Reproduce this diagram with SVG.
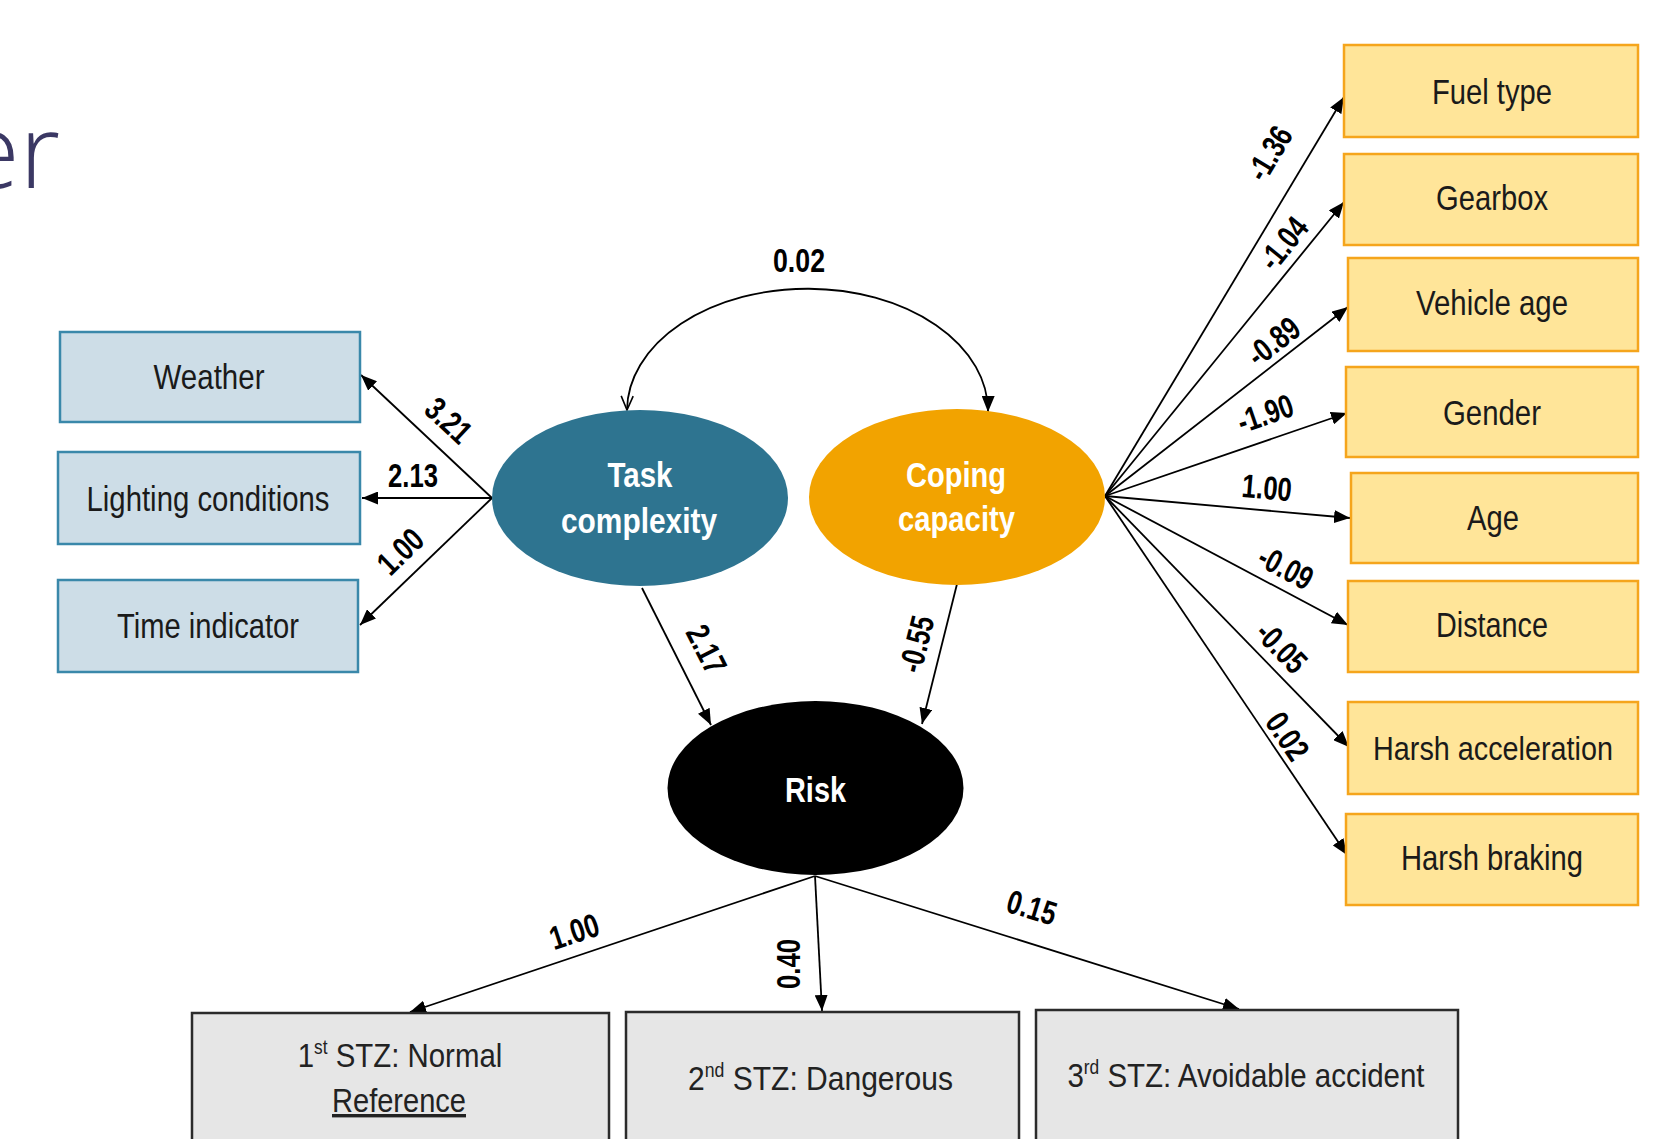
<svg xmlns="http://www.w3.org/2000/svg" width="1655" height="1139" viewBox="0 0 1655 1139">
<defs>
<style>
text{font-family:"Liberation Sans",Arial,sans-serif;}
.lb{fill:#cddde7;stroke:#3a88aa;stroke-width:2.5;}
.rb{fill:#ffe599;stroke:#f5a51c;stroke-width:2.5;}
.bb{fill:#e6e6e6;stroke:#2b2b2b;stroke-width:2.5;}
.bt{font-size:35px;fill:#1a1a1a;text-anchor:middle;}
.st{font-size:34px;fill:#222;text-anchor:middle;}
.sup{font-size:20px;}
.et{font-size:35px;font-weight:bold;fill:#fff;text-anchor:middle;}
.lab{font-size:33px;font-weight:bold;fill:#000;text-anchor:middle;}
.cn{stroke:#000;stroke-width:1.8;fill:none;marker-end:url(#ah);}
</style>
<marker id="ah" viewBox="0 0 16 13" markerWidth="16" markerHeight="13" refX="16" refY="6.5" orient="auto" markerUnits="userSpaceOnUse">
<path d="M0,0 L16,6.5 L0,13 z" fill="#000"/>
</marker>
<marker id="oa" viewBox="0 0 16 14" markerWidth="16" markerHeight="14" refX="15" refY="7" orient="auto-start-reverse" markerUnits="userSpaceOnUse">
<path d="M1,1 L15,7 L1,13" fill="none" stroke="#000" stroke-width="1.6"/>
</marker>
</defs>
<rect width="1655" height="1139" fill="#fff"/>
<text x="60" y="188" text-anchor="end" style="font-family:'Open Sans','Noto Sans',sans-serif;font-size:104px;font-weight:300;fill:#3b3864;">er</text>

<g id="connectors">
<path class="cn" d="M627,410 A180,122 0 0 1 988,412" marker-start="url(#oa)" marker-end="url(#oa)"/>
<line class="cn" x1="492" y1="498" x2="361" y2="375"/>
<line class="cn" x1="492" y1="498" x2="362" y2="498"/>
<line class="cn" x1="492" y1="498" x2="360" y2="625"/>
<line class="cn" x1="642" y1="588" x2="711" y2="725"/>
<line class="cn" x1="957" y1="584" x2="922" y2="724"/>
<line class="cn" x1="815" y1="876" x2="410" y2="1012"/>
<line class="cn" x1="815" y1="876" x2="822" y2="1011"/>
<line class="cn" x1="815" y1="876" x2="1239" y2="1009"/>
<line class="cn" x1="1105" y1="496" x2="1344" y2="97"/>
<line class="cn" x1="1105" y1="496" x2="1344" y2="202"/>
<line class="cn" x1="1105" y1="496" x2="1348" y2="307"/>
<line class="cn" x1="1105" y1="496" x2="1347" y2="413"/>
<line class="cn" x1="1105" y1="496" x2="1350" y2="518"/>
<line class="cn" x1="1105" y1="496" x2="1348" y2="625"/>
<line class="cn" x1="1105" y1="496" x2="1349" y2="747"/>
<line class="cn" x1="1105" y1="496" x2="1347" y2="855"/>
<text class="lab" x="799" y="272" textLength="52" lengthAdjust="spacingAndGlyphs">0.02</text>
<text class="lab" transform="translate(449,420) rotate(43)" x="0" y="12" textLength="50" lengthAdjust="spacingAndGlyphs">3.21</text>
<text class="lab" x="413" y="487" textLength="50" lengthAdjust="spacingAndGlyphs">2.13</text>
<text class="lab" transform="translate(400,551) rotate(-44)" x="0" y="12" textLength="50" lengthAdjust="spacingAndGlyphs">1.00</text>
<text class="lab" transform="translate(707,649) rotate(63)" x="0" y="12" textLength="50" lengthAdjust="spacingAndGlyphs">2.17</text>
<text class="lab" transform="translate(916,644) rotate(-76)" x="0" y="12" textLength="57" lengthAdjust="spacingAndGlyphs">-0.55</text>
<text class="lab" transform="translate(574,931) rotate(-18)" x="0" y="12" textLength="50" lengthAdjust="spacingAndGlyphs">1.00</text>
<text class="lab" transform="translate(788,964) rotate(-90)" x="0" y="12" textLength="50" lengthAdjust="spacingAndGlyphs">0.40</text>
<text class="lab" transform="translate(1032,907) rotate(17)" x="0" y="12" textLength="50" lengthAdjust="spacingAndGlyphs">0.15</text>
<text class="lab" transform="translate(1269,153) rotate(-59)" x="0" y="12" textLength="57" lengthAdjust="spacingAndGlyphs">-1.36</text>
<text class="lab" transform="translate(1283,243) rotate(-51)" x="0" y="12" textLength="57" lengthAdjust="spacingAndGlyphs">-1.04</text>
<text class="lab" transform="translate(1273,341) rotate(-38)" x="0" y="12" textLength="57" lengthAdjust="spacingAndGlyphs">-0.89</text>
<text class="lab" transform="translate(1265,413) rotate(-19)" x="0" y="12" textLength="57" lengthAdjust="spacingAndGlyphs">-1.90</text>
<text class="lab" transform="translate(1267,487) rotate(5)" x="0" y="12" textLength="50" lengthAdjust="spacingAndGlyphs">1.00</text>
<text class="lab" transform="translate(1286,567) rotate(28)" x="0" y="12" textLength="57" lengthAdjust="spacingAndGlyphs">-0.09</text>
<text class="lab" transform="translate(1282,647) rotate(46)" x="0" y="12" textLength="57" lengthAdjust="spacingAndGlyphs">-0.05</text>
<text class="lab" transform="translate(1288,736) rotate(56)" x="0" y="12" textLength="50" lengthAdjust="spacingAndGlyphs">0.02</text>
</g>

<g id="weather"><rect class="lb" x="60" y="332" width="300" height="90"/><text class="bt" x="209" y="389" textLength="111" lengthAdjust="spacingAndGlyphs">Weather</text></g>
<g id="lighting"><rect class="lb" x="58" y="452" width="302" height="92"/><text class="bt" x="208" y="511" textLength="243" lengthAdjust="spacingAndGlyphs">Lighting conditions</text></g>
<g id="time"><rect class="lb" x="58" y="580" width="300" height="92"/><text class="bt" x="208" y="638" textLength="182" lengthAdjust="spacingAndGlyphs">Time indicator</text></g>

<g id="task"><ellipse cx="640" cy="498" rx="148" ry="88" fill="#2e7490"/><text class="et" x="640" y="487" textLength="65" lengthAdjust="spacingAndGlyphs">Task</text><text class="et" x="639" y="533" textLength="156" lengthAdjust="spacingAndGlyphs">complexity</text></g>
<g id="coping"><ellipse cx="957" cy="497" rx="148" ry="88" fill="#f2a300"/><text class="et" x="956" y="487" textLength="100" lengthAdjust="spacingAndGlyphs">Coping</text><text class="et" x="956.5" y="531" textLength="117" lengthAdjust="spacingAndGlyphs">capacity</text></g>
<g id="risk"><ellipse cx="815.5" cy="788" rx="148" ry="87" fill="#000"/><text class="et" x="815.5" y="802" textLength="61" lengthAdjust="spacingAndGlyphs">Risk</text></g>

<g id="fuel"><rect class="rb" x="1344" y="45" width="294" height="92"/><text class="bt" x="1492" y="104" textLength="120" lengthAdjust="spacingAndGlyphs">Fuel type</text></g>
<g id="gearbox"><rect class="rb" x="1344" y="154" width="294" height="91"/><text class="bt" x="1492" y="210" textLength="112" lengthAdjust="spacingAndGlyphs">Gearbox</text></g>
<g id="vehicleage"><rect class="rb" x="1348" y="258" width="290" height="93"/><text class="bt" x="1492" y="315" textLength="152" lengthAdjust="spacingAndGlyphs">Vehicle age</text></g>
<g id="gender"><rect class="rb" x="1346" y="367" width="292" height="90"/><text class="bt" x="1492" y="425" textLength="98" lengthAdjust="spacingAndGlyphs">Gender</text></g>
<g id="age"><rect class="rb" x="1351" y="473" width="287" height="90"/><text class="bt" x="1493" y="530" textLength="52" lengthAdjust="spacingAndGlyphs">Age</text></g>
<g id="distance"><rect class="rb" x="1348" y="581" width="290" height="91"/><text class="bt" x="1492" y="637" textLength="112" lengthAdjust="spacingAndGlyphs">Distance</text></g>
<g id="harshacc"><rect class="rb" x="1348" y="702" width="290" height="92"/><text class="bt" x="1493" y="760" style="font-size:33px" textLength="240" lengthAdjust="spacingAndGlyphs">Harsh acceleration</text></g>
<g id="harshbrake"><rect class="rb" x="1346" y="814" width="292" height="91"/><text class="bt" x="1492" y="870" textLength="182" lengthAdjust="spacingAndGlyphs">Harsh braking</text></g>

<g id="stz1"><rect class="bb" x="192" y="1013" width="417" height="140"/>
<text class="st" transform="translate(400,1067) scale(0.865,1)" x="0" y="0">1<tspan class="sup" dy="-13">st</tspan><tspan dy="13"> STZ: Normal</tspan></text>
<text class="st" x="399" y="1112" textLength="134" lengthAdjust="spacingAndGlyphs" text-decoration="underline">Reference</text></g>
<g id="stz2"><rect class="bb" x="626" y="1012" width="393" height="140"/>
<text class="st" transform="translate(820.5,1090) scale(0.883,1)" x="0" y="0">2<tspan class="sup" dy="-13">nd</tspan><tspan dy="13"> STZ: Dangerous</tspan></text></g>
<g id="stz3"><rect class="bb" x="1036" y="1010" width="422" height="140"/>
<text class="st" transform="translate(1246,1087) scale(0.867,1)" x="0" y="0">3<tspan class="sup" dy="-13">rd</tspan><tspan dy="13"> STZ: Avoidable accident</tspan></text></g>
</svg>
